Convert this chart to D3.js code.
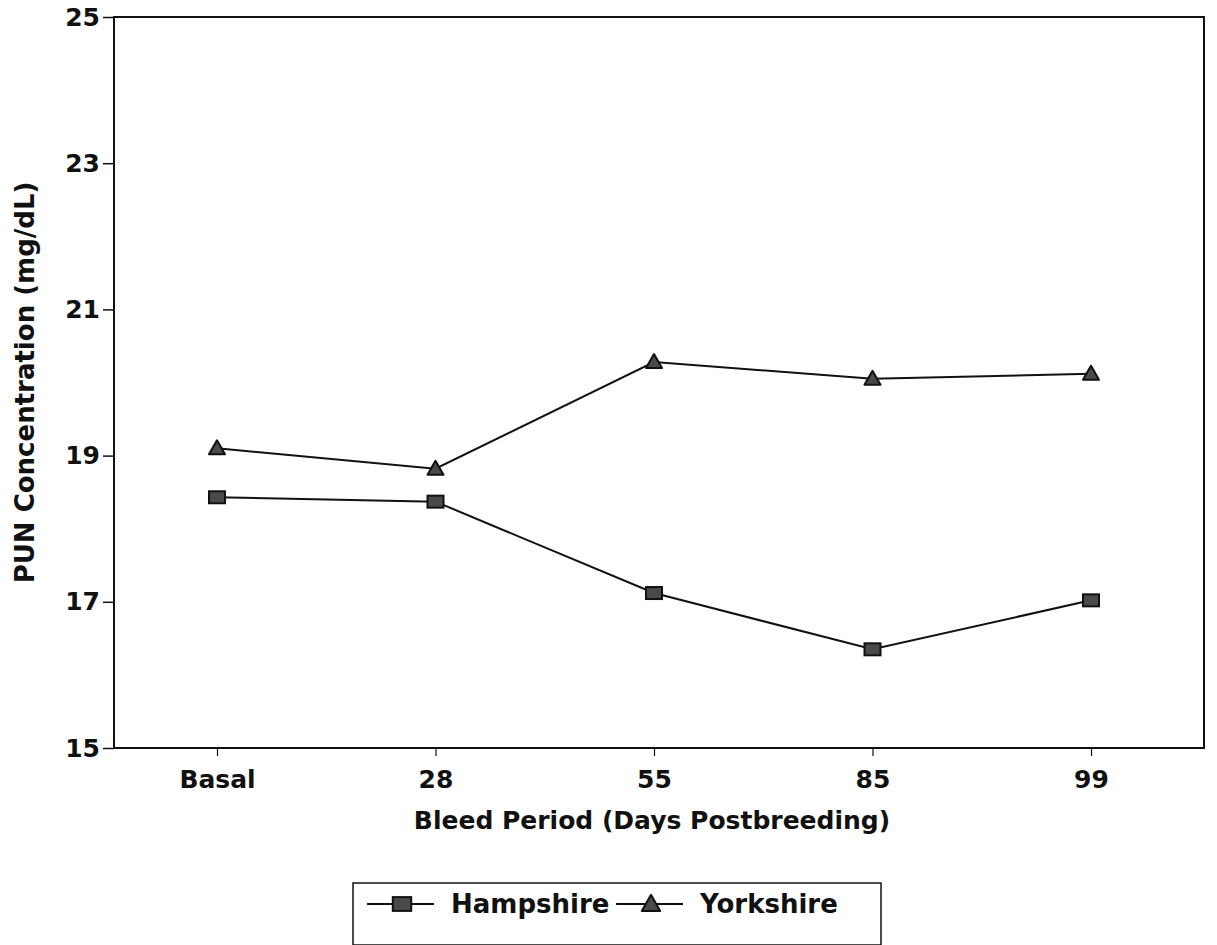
<!DOCTYPE html>
<html>
<head>
<meta charset="utf-8">
<script src="https://cdn.jsdelivr.net/npm/d3@7"></script>
<style>
  body { margin: 0; background: #fff; }
  svg text { font-family: "DejaVu Sans", "Liberation Sans", Arial, sans-serif; font-weight: bold; fill: #111; }
</style>
</head>
<body>
<svg id="chart" width="1217" height="945"></svg>
<script>
// bleed periods (days postbreeding)
const periods = ['Basal', '28', '55', '85', '99'];
// PUN concentration, mg/dL
const hampshire = [18.43, 18.37, 17.12, 16.35, 17.02];
const yorkshire = [19.10, 18.82, 20.28, 20.05, 20.12];
const yTicks = [15, 17, 19, 21, 23, 25];

const W = 1217, H = 945;
const margin = { top: 17, right: 13, bottom: 197, left: 114 };
const iw = W - margin.left - margin.right;
const ih = H - margin.top - margin.bottom;

const svg = d3.select('#chart');
const g = svg.append('g').attr('transform', `translate(${margin.left},${margin.top})`);

// categories sit a bit left of centre in the frame
const x = d3.scalePoint().domain(periods).range([103, iw - 113]);
const y = d3.scaleLinear().domain([15, 25]).range([ih, 0]);

// frame
g.append('rect')
  .attr('width', iw).attr('height', ih)
  .attr('fill', 'none').attr('stroke', '#111').attr('stroke-width', 2);

// axes
const yAxis = g.append('g')
  .call(d3.axisLeft(y).tickValues(yTicks).tickSize(11).tickPadding(3).tickFormat(d3.format('d')));
yAxis.select('.domain').remove();
yAxis.selectAll('line').attr('stroke', '#111').attr('stroke-width', 1.5);
yAxis.selectAll('text').style('font-size', '25px').attr('fill', '#111');

const xAxis = g.append('g').attr('transform', `translate(0,${ih})`)
  .call(d3.axisBottom(x).tickSize(8).tickPadding(14));
xAxis.select('.domain').remove();
xAxis.selectAll('line').attr('stroke', '#111').attr('stroke-width', 1.2);
xAxis.selectAll('text').style('font-size', '25px').attr('fill', '#111').attr('dy', '0.71em');

// axis titles
svg.append('text')
  .attr('transform', `translate(34,${margin.top + ih / 2}) rotate(-90)`)
  .attr('text-anchor', 'middle')
  .style('font-size', '26px')
  .text('PUN Concentration (mg/dL)');

svg.append('text')
  .attr('x', 652).attr('y', 829)
  .attr('text-anchor', 'middle')
  .style('font-size', '25px')
  .text('Bleed Period (Days Postbreeding)');

// series
const series = [
  { name: 'Hampshire', values: hampshire, shape: 'square' },
  { name: 'Yorkshire', values: yorkshire, shape: 'triangle' }
];

const line = d3.line().x((d, i) => x(periods[i])).y(d => y(d));

function drawMarker(sel, shape, k = 1) {
  if (shape === 'square') {
    sel.append('rect')
      .attr('x', -8 * k).attr('y', -6 * k).attr('width', 16 * k).attr('height', 12 * k)
      .attr('fill', '#4a4a4a').attr('stroke', '#111').attr('stroke-width', 2);
  } else {
    sel.append('path')
      .attr('d', `M0,${-8 * k}L${8 * k},${6 * k}L${-8 * k},${6 * k}Z`)
      .attr('fill', '#4a4a4a').attr('stroke', '#111').attr('stroke-width', 2)
      .attr('stroke-linejoin', 'round');
  }
}

for (const s of series) {
  g.append('path')
    .datum(s.values)
    .attr('d', line)
    .attr('fill', 'none')
    .attr('stroke', '#111')
    .attr('stroke-width', 2);

  g.selectAll(null)
    .data(s.values)
    .enter()
    .append('g')
    .attr('transform', (d, i) => `translate(${x(periods[i])},${y(d)})`)
    .each(function() { drawMarker(d3.select(this), s.shape); });
}

// legend
const lg = svg.append('g').attr('transform', 'translate(353,883)');
lg.append('rect')
  .attr('width', 528).attr('height', 62)
  .attr('fill', '#fff').attr('stroke', '#111').attr('stroke-width', 1.5);

const legendItems = [
  { name: 'Hampshire', shape: 'square', x0: 14 },
  { name: 'Yorkshire', shape: 'triangle', x0: 263 }
];
for (const it of legendItems) {
  const row = lg.append('g').attr('transform', `translate(${it.x0},21)`);
  row.append('line').attr('x1', 0).attr('x2', 67)
    .attr('stroke', '#111').attr('stroke-width', 2);
  drawMarker(row.append('g').attr('transform', 'translate(35,0)'), it.shape, 1.15);
  row.append('text')
    .attr('x', 84).attr('y', 0).attr('dy', '0.36em')
    .style('font-size', '26px')
    .text(it.name);
}
</script>
</body>
</html>
